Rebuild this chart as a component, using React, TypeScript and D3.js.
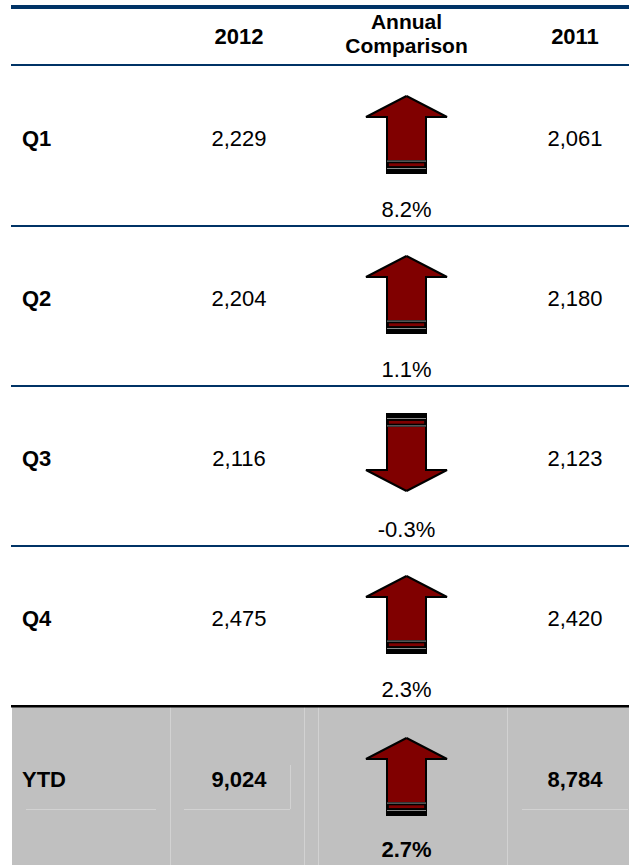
import React from "react";
import * as d3 from "d3";

const quarters = ["Q1", "Q2", "Q3", "Q4"];
const values2012 = [2229, 2204, 2116, 2475];
const values2011 = [2061, 2180, 2123, 2420];
const changes = [8.2, 1.1, -0.3, 2.3];
const ytdLabel = "YTD";
const ytd2012 = 9024;
const ytd2011 = 8784;
const ytdChange = 2.7;
const headers = ["2012", "Annual", "Comparison", "2011"];

const W = 629;
const H = 865;
const NAVY = "#003366";
const MAROON = "#800000";
const FONT = "'Liberation Sans', Arial, Helvetica, sans-serif";
const FS = 22;

const locale = d3.formatLocale({
  decimal: ".",
  thousands: ",",
  grouping: [3],
  currency: ["$", ""],
  minus: "-",
});
const fmtNum = locale.format(",");
const fmtPct = (v: number) => locale.format(".1f")(v) + "%";

function Arrow({ cx, top, up }: { cx: number; top: number; up: boolean }) {
  const headW = 40.5;
  const headH = 21;
  const shaftW = 19.5;
  const len = 77;
  const outline = d3.line()([
    [0, 0],
    [headW, headH],
    [shaftW, headH],
    [shaftW, len],
    [-shaftW, len],
    [-shaftW, headH],
    [-headW, headH],
    [0, 0],
  ]) as string;
  const transform = up
    ? `translate(${cx},${top})`
    : `translate(${cx},${top + len}) scale(1,-1)`;
  return (
    <g transform={transform}>
      <path d={outline} fill={MAROON} stroke="#000" strokeWidth={2} strokeLinejoin="miter" />
      <rect x={-shaftW} y={64} width={shaftW * 2} height={13} fill="#000" />
      <rect x={-shaftW} y={64.6} width={shaftW * 2} height={1} fill="#8a8a8a" />
      <rect x={-shaftW + 1.8} y={67.3} width={shaftW * 2 - 3.6} height={2.8} fill={MAROON} />
      <rect x={-shaftW} y={72} width={shaftW * 2} height={1} fill="#8a8a8a" />
    </g>
  );
}

export default function App() {
  const rows = [...quarters, ytdLabel];
  const y = d3.scaleBand<string>().domain(rows).range([65, 865]).padding(0);
  const x = d3
    .scaleOrdinal<string, number>()
    .domain(["label", "2012", "cmp", "2011"])
    .range([22, 239, 406.5, 575]);

  const qRows = quarters.map((q, i) => ({
    label: q,
    v12: values2012[i],
    v11: values2011[i],
    chg: changes[i],
  }));
  const ytdTop = y(ytdLabel)!;

  return (
    <svg
      width={W}
      height={H}
      style={{ position: "absolute", left: 0, top: 0, display: "block" }}
      fontFamily={FONT}
    >
      <rect x={0} y={0} width={W} height={H} fill="#fff" />
      <rect x={12} y={ytdTop + 2} width={W - 12} height={H - ytdTop - 2} fill="#c0c0c0" />
      <g stroke="#d2d2d2" strokeWidth={1}>
        {[170.5, 304.5, 318.5, 507.5].map((vx) => (
          <line key={vx} x1={vx} x2={vx} y1={ytdTop + 2} y2={H} />
        ))}
        <line x1={26} x2={156} y1={809.5} y2={809.5} />
        <line x1={184} x2={290} y1={809.5} y2={809.5} />
        <line x1={522} x2={628} y1={809.5} y2={809.5} />
        <line x1={290.5} x2={290.5} y1={765} y2={809} />
      </g>

      <rect x={11} y={5} width={W - 11} height={4} fill={NAVY} />
      <rect x={11} y={64} width={W - 11} height={2} fill={NAVY} />

      <g fontWeight="bold" textAnchor="middle" fill="#000">
        <text x={x("2012")} y={44} fontSize={FS}>{headers[0]}</text>
        <text x={x("cmp")} y={29} fontSize={21}>{headers[1]}</text>
        <text x={x("cmp")} y={53} fontSize={21}>{headers[2]}</text>
        <text x={x("2011")} y={44} fontSize={FS}>{headers[3]}</text>
      </g>

      {qRows.map((r, i) => {
        const top = y(r.label)!;
        const up = r.chg >= 0;
        return (
          <g key={r.label}>
            <text x={x("label")} y={top + 81} fontSize={FS} fontWeight="bold">
              {r.label}
            </text>
            <text x={x("2012")} y={top + 81} fontSize={FS} textAnchor="middle">
              {fmtNum(r.v12)}
            </text>
            <text x={x("2011")} y={top + 81} fontSize={FS} textAnchor="middle">
              {fmtNum(r.v11)}
            </text>
            <Arrow cx={x("cmp")} top={up ? top + 31 : top + 29} up={up} />
            <text x={x("cmp")} y={top + 152} fontSize={FS} textAnchor="middle">
              {fmtPct(r.chg)}
            </text>
            {i < quarters.length - 1 && (
              <rect x={11} y={top + 160} width={W - 11} height={2} fill={NAVY} />
            )}
          </g>
        );
      })}

      <rect x={11} y={ytdTop} width={W - 11} height={2.5} fill="#000" />

      <g fontWeight="bold" fontSize={FS}>
        <text x={x("label")} y={ytdTop + 82}>{ytdLabel}</text>
        <text x={x("2012")} y={ytdTop + 82} textAnchor="middle">{fmtNum(ytd2012)}</text>
        <text x={x("2011")} y={ytdTop + 82} textAnchor="middle">{fmtNum(ytd2011)}</text>
        <text x={x("cmp")} y={ytdTop + 152} textAnchor="middle">{fmtPct(ytdChange)}</text>
      </g>
      <Arrow cx={x("cmp")} top={ytdTop + 33} up={ytdChange >= 0} />
    </svg>
  );
}
